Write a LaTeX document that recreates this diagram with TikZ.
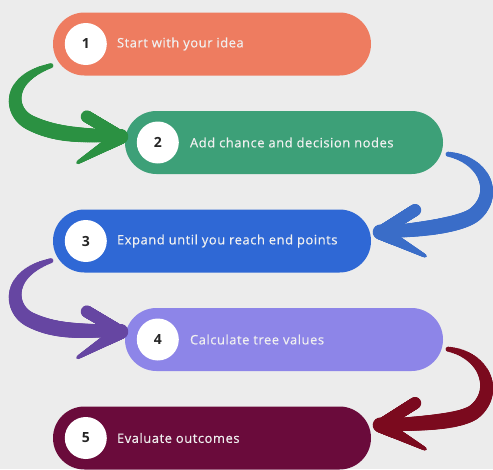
\documentclass[tikz,border=0pt]{standalone}
\usepackage{fontspec}
\setmainfont{Open Sans}
\newfontfamily\steplabelfont[LetterSpace=4,FakeBold=0.4]{Open Sans}
\usetikzlibrary{calc,decorations.markings}

% palette
\definecolor{bg}{HTML}{ECECEC}
\definecolor{pillone}{HTML}{EE7C60}
\definecolor{pilltwo}{HTML}{3DA078}
\definecolor{pillthree}{HTML}{2F68D5}
\definecolor{pillfour}{HTML}{8D85E8}
\definecolor{pillfive}{HTML}{6A0B3B}
\definecolor{arrowgreen}{HTML}{2B9142}
\definecolor{arrowblue}{HTML}{3A6DC8}
\definecolor{arrowpurple}{HTML}{6646A2}
\definecolor{arrowred}{HTML}{7B0A1E}

\begin{document}
\begin{tikzpicture}[x=1pt,y=-1pt,
  pill/.style={rounded corners=31.5pt, minimum width=318pt, minimum height=63pt, inner sep=0pt},
  badge/.style={circle, fill=white, minimum size=42pt, inner sep=0pt,
                font=\fontsize{14}{14}\selectfont\bfseries, text=black!85},
  steplabel/.style={anchor=west, text=white!94!black, inner sep=0pt,
                font=\steplabelfont\fontsize{13}{15}\selectfont},
  % brush stroke: colour, start radius, end radius, extra swell in the middle
  brush/.style n args={4}{decorate, decoration={markings,
     mark=between positions 0 and 1 step 0.01 with {%
       \pgfmathsetmacro\brushT{(\pgfkeysvalueof{/pgf/decoration/mark info/sequence number}-1)/100}%
       \pgfmathsetmacro\brushR{#2+(#3-#2)*\brushT+#4*sin(180*\brushT)}%
       \fill[#1] (0,0) circle[radius=\brushR pt];}}},
  shaft/.style={brush={#1}{2.6}{5.8}{3.5}},
  upperbarb/.style={brush={#1}{5.8}{6}{0}},
  lowerbarb/.style={brush={#1}{7.5}{1.8}{0}},
]
\useasboundingbox (0,0) rectangle (493,469);
\fill[bg] (0,0) rectangle (493,469);

% steps
\node[pill, fill=pillone] (p1) at (212,44) {};
\node[badge] (n1) at ($(p1.west)+(33,0)$) {1};
\node[steplabel] (t1) at ($(p1.west)+(64,0)$) {Start with your idea};

\node[pill, fill=pilltwo] (p2) at (284,142.5) {};
\node[badge] (n2) at ($(p2.west)+(33,0)$) {2};
\node[steplabel] (t2) at ($(p2.west)+(65,0)$) {Add chance and decision nodes};

\node[pill, fill=pillthree] (p3) at (212,241) {};
\node[badge] (n3) at ($(p3.west)+(33,0)$) {3};
\node[steplabel] (t3) at ($(p3.west)+(64,0)$) {Expand until you reach end points};

\node[pill, fill=pillfour] (p4) at (284,339.5) {};
\node[badge] (n4) at ($(p4.west)+(33,0)$) {4};
\node[steplabel] (t4) at ($(p4.west)+(65,0)$) {Calculate tree values};

\node[pill, fill=pillfive] (p5) at (212,438) {};
\node[badge] (n5) at ($(p5.west)+(33,0)$) {5};
\node[steplabel] (t5) at ($(p5.west)+(64,0)$) {Evaluate outcomes};

% 1 -> 2 (left swoop)
\coordinate (g0) at ($(p1.south west)+(-2,-10)$);
\coordinate (g1) at ($(p2.west)+(-95,-20)$);
\coordinate (g2) at ($(p2.west)+(-4,-6)$);
\path[shaft=arrowgreen] (g0) .. controls +(-46,14) and +(-20,-10) .. (g1)
     .. controls +(30,15) and +(-30,-2) .. (g2);
\path[upperbarb=arrowgreen] (g2) -- ++(-34,-20);
\path[lowerbarb=arrowgreen] (g2) -- ++(-43,26);
\fill[arrowgreen] ($(g2)+(6,0)$) -- ($(g2)+(-14,-11)$) -- ($(g2)+(-16,13)$) -- cycle;

% 2 -> 3 (right swoop)
\coordinate (b0) at ($(p2.south east)+(5,-20)$);
\coordinate (b1) at ($(p3.east)+(104,-27)$);
\coordinate (b2) at ($(p3.east)+(9,-9)$);
\path[shaft=arrowblue] (b0) .. controls +(37,6) and +(23,-20) .. (b1)
     .. controls +(-14,12) and +(30,-1) .. (b2);
\path[upperbarb=arrowblue] (b2) -- ++(35,-22);
\path[lowerbarb=arrowblue] (b2) -- ++(45,24);
\fill[arrowblue] ($(b2)+(-6,0)$) -- ($(b2)+(14,-11)$) -- ($(b2)+(16,13)$) -- cycle;

% 3 -> 4 (left swoop)
\coordinate (u0) at ($(p3.south west)+(-2,-12)$);
\coordinate (u1) at ($(p4.west)+(-95,-20)$);
\coordinate (u2) at ($(p4.west)+(-4,-8)$);
\path[shaft=arrowpurple] (u0) .. controls +(-46,14) and +(-20,-10) .. (u1)
     .. controls +(30,15) and +(-30,-2) .. (u2);
\path[upperbarb=arrowpurple] (u2) -- ++(-34,-20);
\path[lowerbarb=arrowpurple] (u2) -- ++(-43,26);
\fill[arrowpurple] ($(u2)+(6,0)$) -- ($(u2)+(-14,-11)$) -- ($(u2)+(-16,13)$) -- cycle;

% 4 -> 5 (right swoop)
\coordinate (r0) at ($(p4.south east)+(5,-22)$);
\coordinate (r1) at ($(p5.east)+(104,-27)$);
\coordinate (r2) at ($(p5.east)+(9,-13)$);
\path[shaft=arrowred] (r0) .. controls +(37,6) and +(23,-20) .. (r1)
     .. controls +(-14,12) and +(30,-1) .. (r2);
\path[upperbarb=arrowred] (r2) -- ++(35,-22);
\path[lowerbarb=arrowred] (r2) -- ++(45,24);
\fill[arrowred] ($(r2)+(-6,0)$) -- ($(r2)+(14,-11)$) -- ($(r2)+(16,13)$) -- cycle;
\end{tikzpicture}
\end{document}
